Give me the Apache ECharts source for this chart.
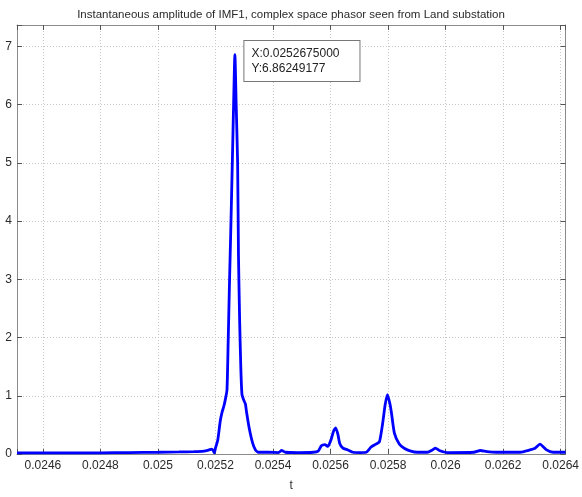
<!DOCTYPE html>
<html>
<head>
<meta charset="utf-8">
<script src="https://cdn.jsdelivr.net/npm/echarts@6/dist/echarts.min.js"></script>
<style>
  html, body { margin: 0; padding: 0; background: #fff; }
  #main { width: 582px; height: 497px; }
</style>
</head>
<body>
<div id="main"></div>
<script>
// time axis (s) and amplitude
var tSec = [
    0.024510, 0.024600, 0.024700, 0.024800, 0.024900, 0.025000, 0.025073, 0.025125,
    0.025160, 0.025177, 0.025187, 0.025192, 0.025196, 0.025200, 0.025208, 0.025217,
    0.025223, 0.025229, 0.025234, 0.025240, 0.025244, 0.025249, 0.025253, 0.025259,
    0.025263, 0.0252675, 0.025272, 0.025277, 0.025280, 0.025284, 0.025288, 0.025292,
    0.025298, 0.025304, 0.025308, 0.025317, 0.025329, 0.025339, 0.025350, 0.025384,
    0.025419, 0.025430, 0.025443, 0.025488, 0.025540, 0.025557, 0.025568, 0.025580,
    0.025591, 0.025602, 0.025611, 0.025618, 0.025626, 0.025632, 0.025643, 0.025660,
    0.025678, 0.025702, 0.025724, 0.025741, 0.025758, 0.025770, 0.025781, 0.025790,
    0.025798, 0.025807, 0.025812, 0.025822, 0.025839, 0.025856, 0.025879, 0.025902,
    0.025937, 0.025954, 0.025965, 0.025978, 0.026006, 0.026098, 0.026121, 0.026144,
    0.026178, 0.026259, 0.026293, 0.026311, 0.026328, 0.026351, 0.026374, 0.026417
];
var amp = [
    0.02, 0.02, 0.02, 0.02, 0.025, 0.03, 0.035, 0.04,
    0.05, 0.07, 0.085, 0.06, 0.02, 0.1, 0.24, 0.58,
    0.72, 0.82, 0.93, 1.1, 1.9, 3.0, 3.8, 5.1,
    6.0, 6.86249177, 6.0, 5.0, 3.4, 2.3, 1.5, 1.03,
    0.93, 0.86, 0.72, 0.45, 0.19, 0.07, 0.03, 0.03,
    0.025, 0.06, 0.03, 0.025, 0.03, 0.05, 0.14, 0.16,
    0.13, 0.25, 0.4, 0.45, 0.33, 0.18, 0.1, 0.07,
    0.03, 0.025, 0.03, 0.12, 0.17, 0.21, 0.52, 0.85,
    1.02, 0.85, 0.7, 0.36, 0.17, 0.1, 0.05, 0.03,
    0.03, 0.07, 0.1, 0.06, 0.025, 0.03, 0.06, 0.04,
    0.03, 0.03, 0.07, 0.1, 0.17, 0.07, 0.03, 0.03
];
var peakPoint = [0.0252675, 6.86249177];
var peakText = ['X:0.0252675000', 'Y:6.86249177'];

var xMin = 0.02451, xMax = 0.026417;
var yMin = 0, yMax = 7.37;

var points = tSec.map(function (t, i) { return [t, amp[i]]; });

function xTickText(v) {
    var k = v / 0.0002;
    if (Math.abs(k - Math.round(k)) > 1e-6) return '';
    return String(parseFloat(v.toFixed(4)));
}
function yTickText(v) {
    return Math.abs(v - Math.round(v)) < 1e-9 ? String(Math.round(v)) : '';
}

var lineGray = '#8a8a8a';
var gridDots = { show: true, lineStyle: { color: '#c6c6c6', type: [1, 2], width: 1 } };

var chart = echarts.init(document.getElementById('main'));
chart.setOption({
    backgroundColor: '#fff',
    animation: false,
    title: {
        text: 'Instantaneous amplitude of IMF1, complex space phasor seen from Land substation',
        left: 'center',
        top: 4,
        textStyle: { fontFamily: 'Liberation Sans', fontSize: 11.5, fontWeight: 'normal', color: '#2a2a2a' }
    },
    grid: { left: 17, right: 13, top: 25, bottom: 36, containLabel: false },
    xAxis: [{
        type: 'value',
        min: xMin, max: xMax,
        splitNumber: 10, minInterval: 0.0002, maxInterval: 0.0002,
        name: 't',
        nameLocation: 'middle',
        nameGap: 26,
        nameTextStyle: { fontFamily: 'Liberation Sans', fontSize: 12, color: '#333' },
        axisLine: { show: true, onZero: false, lineStyle: { color: lineGray } },
        axisTick: { show: true, inside: true, length: 5, lineStyle: { color: '#555' } },
        axisLabel: { formatter: xTickText, fontFamily: 'Liberation Sans', fontSize: 12, color: '#2a2a2a', margin: 6 },
        splitLine: gridDots
    }, {
        type: 'value',
        position: 'top',
        min: xMin, max: xMax,
        splitNumber: 10, minInterval: 0.0002, maxInterval: 0.0002,
        axisLine: { show: true, onZero: false, lineStyle: { color: lineGray } },
        axisTick: { show: true, inside: true, length: 5, lineStyle: { color: '#555' } },
        axisLabel: { show: false },
        splitLine: { show: false }
    }],
    yAxis: [{
        type: 'value',
        min: yMin, max: yMax, interval: 1,
        axisLine: { show: true, onZero: false, lineStyle: { color: lineGray } },
        axisTick: { show: true, inside: true, length: 5, lineStyle: { color: '#555' } },
        axisLabel: { formatter: yTickText, fontFamily: 'Liberation Sans', fontSize: 12, color: '#2a2a2a', margin: 5 },
        splitLine: gridDots
    }, {
        type: 'value',
        position: 'right',
        min: yMin, max: yMax, interval: 1,
        axisLine: { show: true, onZero: false, lineStyle: { color: lineGray } },
        axisTick: { show: true, inside: true, length: 5, lineStyle: { color: '#555' } },
        axisLabel: { show: false },
        splitLine: { show: false }
    }],
    series: [{
        type: 'line',
        xAxisIndex: 0,
        yAxisIndex: 0,
        data: points,
        showSymbol: false,
        smooth: 0.2,
        lineStyle: { color: '#0000ff', width: 2.8 },
        markPoint: {
            symbol: 'rect',
            symbolSize: 1,
            itemStyle: { color: 'rgba(0,0,0,0)' },
            data: [{ coord: peakPoint }],
            label: {
                show: true,
                position: [10, -13],
                formatter: peakText.join('\n'),
                fontFamily: 'Liberation Sans',
                fontSize: 12,
                lineHeight: 15,
                color: '#222',
                backgroundColor: '#fff',
                borderColor: '#777',
                borderWidth: 1,
                padding: [5, 20, 5, 7],
                align: 'left',
                verticalAlign: 'top'
            }
        }
    }]
});
</script>
</body>
</html>
